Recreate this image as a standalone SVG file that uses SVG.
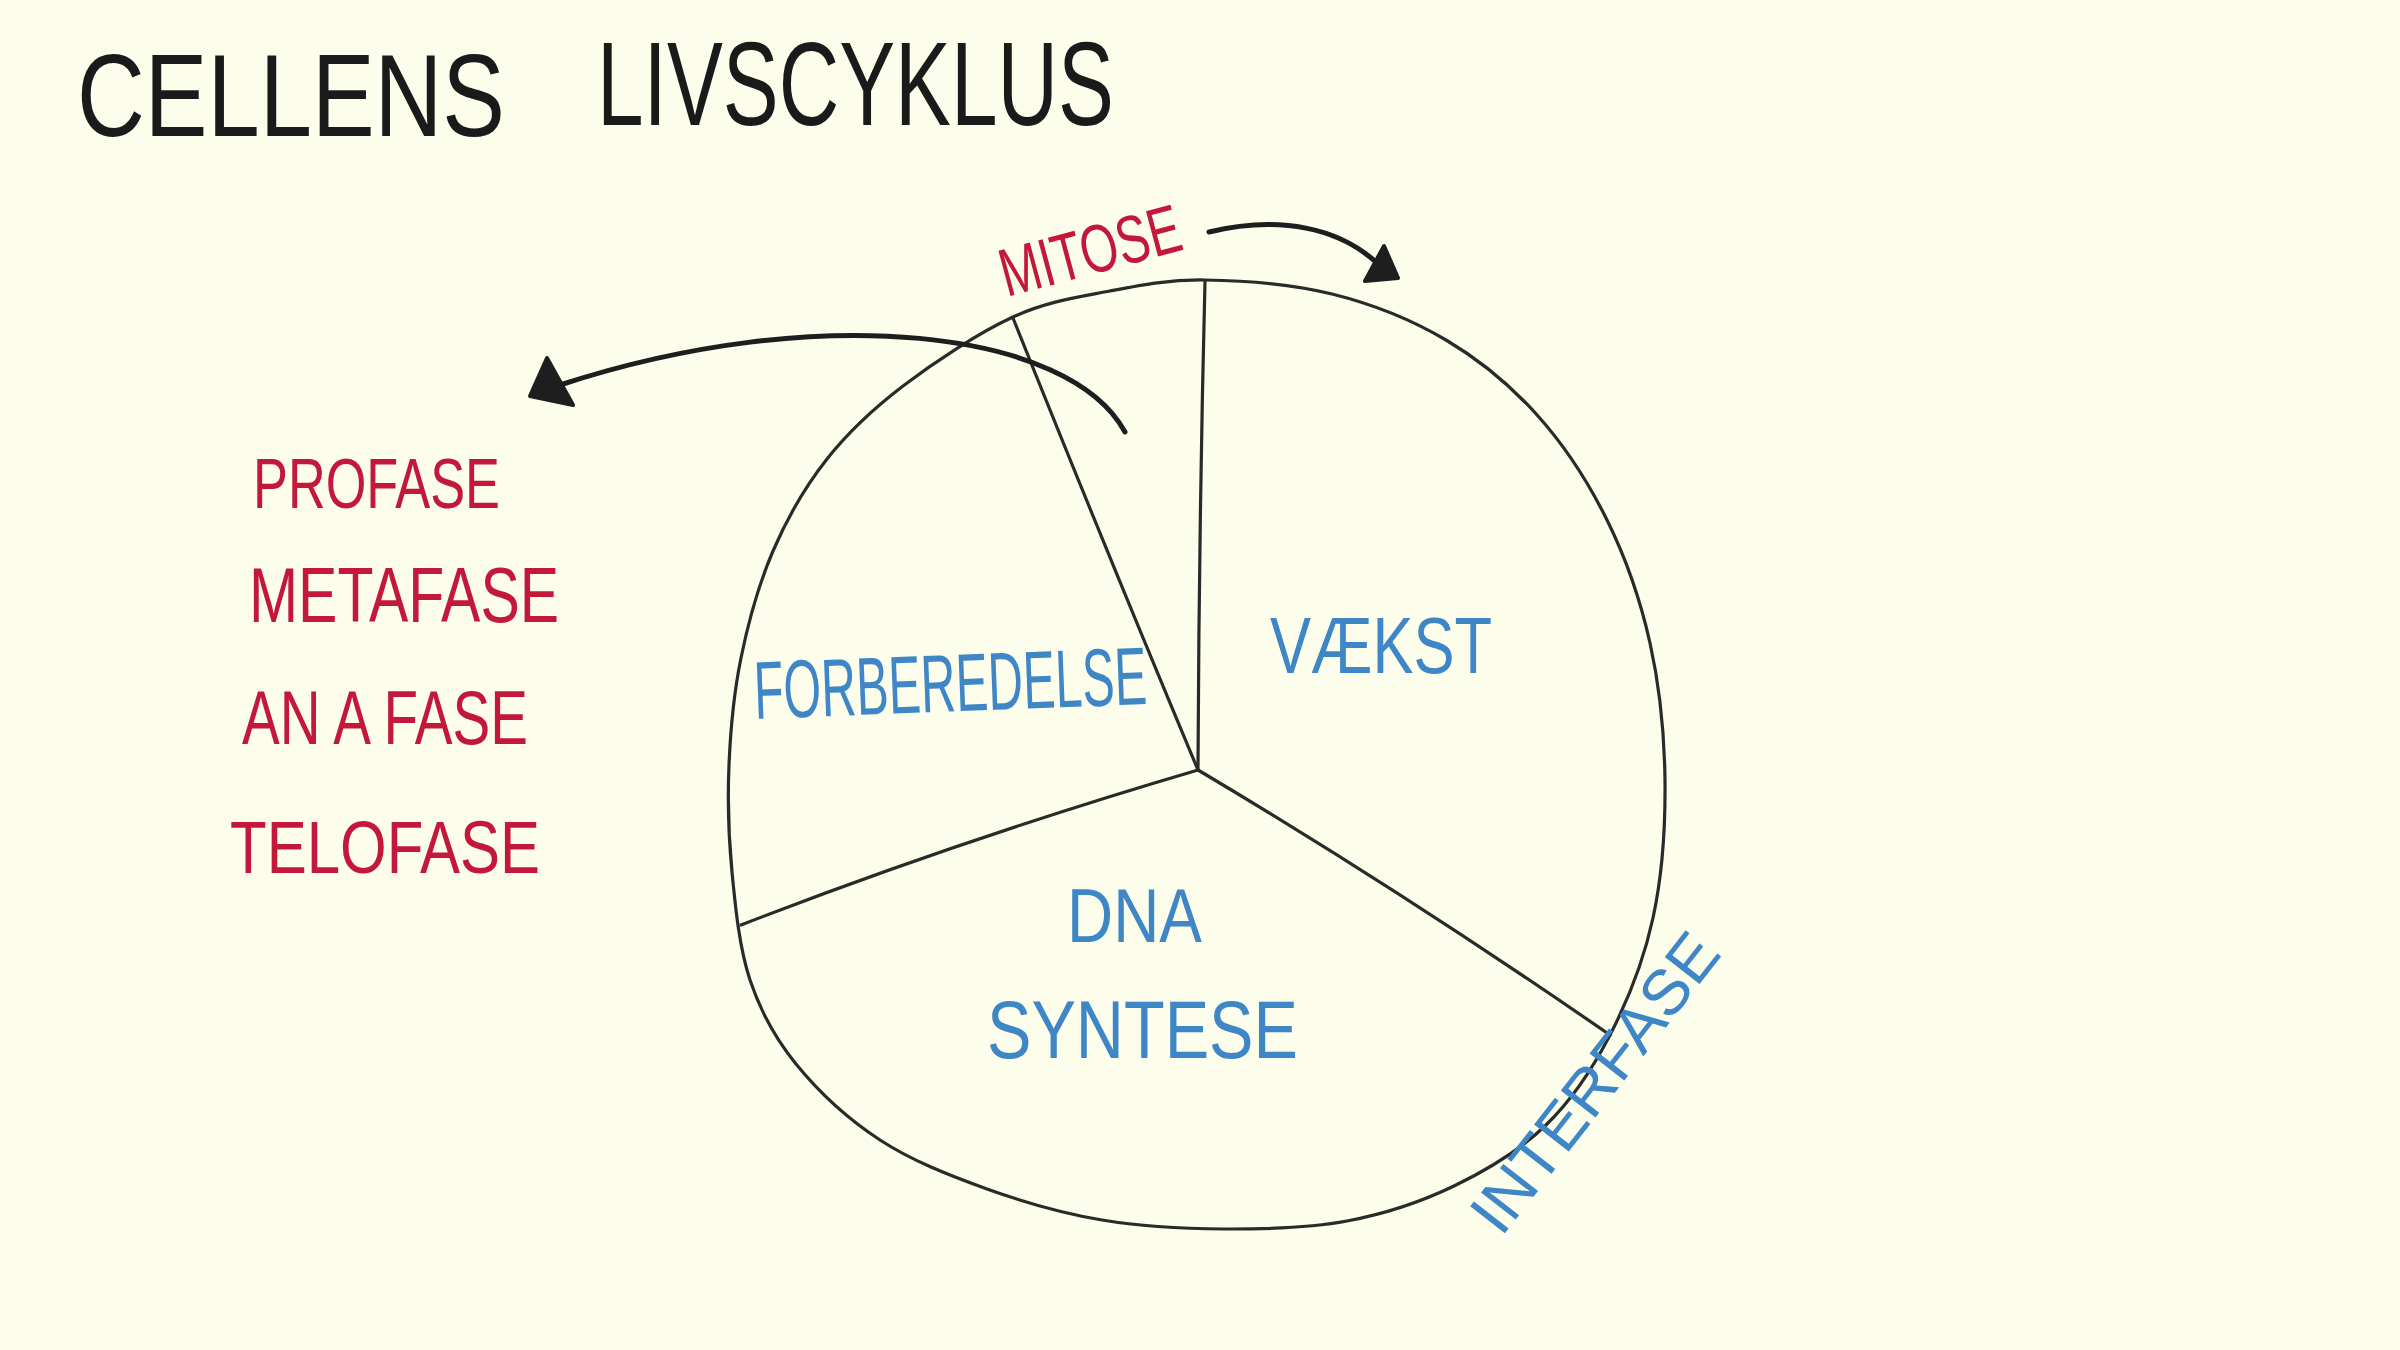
<svg xmlns="http://www.w3.org/2000/svg" width="2400" height="1350" viewBox="0 0 2400 1350">
<defs>
<style>
.bg{fill:#fcfdea}
.ink{fill:none;stroke:#2a2a2a;stroke-width:3.2;stroke-linecap:round;stroke-linejoin:round}
.arrow{fill:none;stroke:#1e1e1e;stroke-width:5;stroke-linecap:round}
.head{fill:#1e1e1e;stroke:#1e1e1e;stroke-width:4;stroke-linejoin:round}
.title{font-family:"Liberation Sans","DejaVu Sans",sans-serif;fill:#1a1a1a;font-weight:normal}
.red{font-family:"Liberation Sans","DejaVu Sans",sans-serif;fill:#c4183a}
.blue{font-family:"Liberation Sans","DejaVu Sans",sans-serif;fill:#3e86c6}
</style>
</defs>
<rect class="bg" x="0" y="0" width="2400" height="1350"/>

<g id="title">
<text class="title" x="77" y="136" font-size="116" textLength="428" lengthAdjust="spacingAndGlyphs">CELLENS</text>
<text class="title" x="597" y="125" font-size="118" textLength="517" lengthAdjust="spacingAndGlyphs">LIVSCYKLUS</text>
</g>

<g id="cycle">
<path class="ink" d="M1205,280 C1242,280.5 1291.8,284 1332,294 C1372.2,304 1411.7,319.7 1446,340 C1480.3,360.3 1511.2,386 1538,416 C1564.8,446 1588.3,482.2 1607,520 C1625.7,557.8 1640.3,599.5 1650,643 C1659.7,686.5 1664.5,735.2 1665,781 C1665.5,826.8 1662.2,875.7 1653,918 C1643.8,960.3 1627.8,1000.5 1610,1035 C1592.2,1069.5 1572,1099.8 1546,1125 C1520,1150.2 1487.2,1170 1454,1186 C1420.8,1202 1385.3,1213.8 1347,1221 C1308.7,1228.2 1264.8,1229.2 1224,1229 C1183.2,1228.8 1141.5,1226.7 1102,1220 C1062.5,1213.3 1024,1202.3 987,1189 C950,1175.7 911.8,1160.8 880,1140 C848.2,1119.2 817.7,1090.7 796,1064 C774.3,1037.3 760.7,1012 750,980 C739.3,948 735.5,907.8 732,872 C728.5,836.2 727.5,800.7 729,765 C730.5,729.3 733.7,693.7 741,658 C748.3,622.3 758.7,584.2 773,551 C787.3,517.8 805.3,486.5 827,459 C848.7,431.5 872,409.7 903,386 C934,362.3 978.5,332.8 1013,317 C1047.5,301.2 1078,297.2 1110,291 C1142,284.8 1168,279.5 1205,280 Z"/>
<path class="ink" d="M1198,770 Q1199,520 1205,281"/>
<path class="ink" d="M1198,770 Q1110,560 1013,318"/>
<path class="ink" d="M1198,770 Q960,840 741,925"/>
<path class="ink" d="M1198,770 Q1400,890 1610,1035"/>
</g>

<g id="phase-forberedelse">
<text class="blue" x="755" y="719" font-size="82" textLength="393" lengthAdjust="spacingAndGlyphs" transform="rotate(-2.2 755 719)">FORBEREDELSE</text>
</g>
<g id="phase-vaekst">
<text class="blue" x="1270" y="673" font-size="80" textLength="222" lengthAdjust="spacingAndGlyphs">VÆKST</text>
</g>
<g id="phase-dna">
<text class="blue" x="1067" y="942" font-size="76" textLength="135" lengthAdjust="spacingAndGlyphs">DNA</text>
<text class="blue" x="987" y="1058" font-size="82" textLength="311" lengthAdjust="spacingAndGlyphs">SYNTESE</text>
</g>
<g id="label-interfase">
<text class="blue" x="0" y="23" font-size="64" text-anchor="middle" textLength="360" lengthAdjust="spacingAndGlyphs" transform="translate(1594,1082) rotate(-52)">INTERFASE</text>
</g>
<g id="label-mitose">
<text class="red" x="0" y="24" font-size="68" text-anchor="middle" textLength="185" lengthAdjust="spacingAndGlyphs" transform="translate(1090,250) rotate(-15)">MITOSE</text>
</g>
<g id="mitosis-phases">
<text class="red" x="253" y="508" font-size="70" textLength="247" lengthAdjust="spacingAndGlyphs">PROFASE</text>
<text class="red" x="249" y="622" font-size="78" textLength="310" lengthAdjust="spacingAndGlyphs">METAFASE</text>
<text class="red" x="242" y="744" font-size="76" textLength="286" lengthAdjust="spacingAndGlyphs">AN A FASE</text>
<text class="red" x="230" y="873" font-size="74" textLength="310" lengthAdjust="spacingAndGlyphs">TELOFASE</text>
</g>

<g id="connectors">
<path class="arrow" d="M1125,432 C1070,330 820,300 560,385"/>
<path class="head" d="M547,358 L530,396 L573,405 Z"/>
<path class="arrow" d="M1209,232 C1280,215 1340,228 1378,264"/>
<path class="head" d="M1384,246 L1365,281 L1398,278 Z"/>
</g>
</svg>
